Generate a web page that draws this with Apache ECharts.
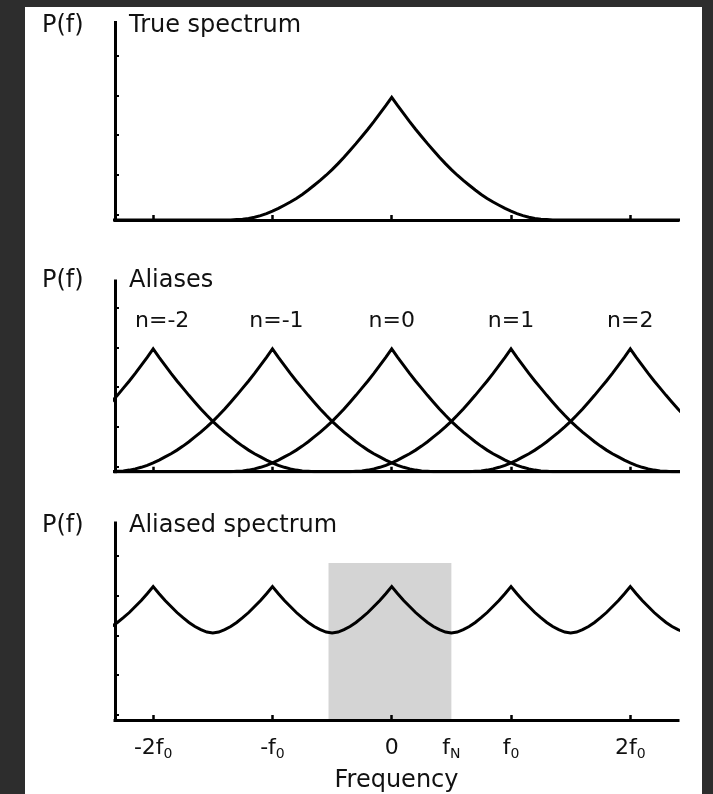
<!DOCTYPE html>
<html>
<head>
<meta charset="utf-8">
<script src="https://cdn.jsdelivr.net/npm/echarts@6/dist/echarts.min.js"></script>
<style>
html, body { margin: 0; padding: 0; background: #2d2d2d; }
#sheet { position: absolute; left: 25px; top: 7px; width: 677px; height: 787px; background: #ffffff; }
#chart { position: absolute; left: 0; top: 0; width: 713px; height: 794px; }
</style>
</head>
<body>
<div id="sheet"></div>
<div id="chart"></div>
<script>
// Frequency axis range, in units of the sampling frequency f0
const freqMin = -2.32;
const freqMax = 2.40;
const sampleStep = 0.05;

// One-sided shape of the true spectrum: P at |f| = 0, 0.05, 0.10, ...
const trueShape = [3.07, 2.86, 2.66, 2.46, 2.27, 2.09, 1.91, 1.74, 1.57, 1.41,
                   1.26, 1.12, 0.99, 0.87, 0.75, 0.64, 0.54, 0.45, 0.37, 0.29,
                   0.22, 0.16, 0.11, 0.07, 0.04, 0.02, 0.01, 0.00];

// One-sided shape of the aliased spectrum, from a peak (|f - n f0| = 0) to the trough (0.5)
const aliasedShape = [3.34, 3.16, 2.99, 2.84, 2.69, 2.56, 2.44, 2.34, 2.26, 2.20, 2.18];

// Alias orders and the height of their labels
const aliasOrders = [-2, -1, 0, 1, 2];
const aliasLabelLevel = 3.46;

// Frequency ticks and their labels (main text + subscript)
const freqTicks = [-2, -1, 0, 1, 2];
const freqLabelValues = [-2, -1, 0, 0.5, 1, 2];
const freqLabelMain = ['-2f', '-f', '0', 'f', 'f', '2f'];
const freqLabelSub = ['0', '0', '', 'N', '0', '0'];

// Power ticks on the vertical axes
const powerTicks = [0.13, 1.13, 2.12, 3.10, 4.10];

// Nyquist band [-fN, fN] shaded in the aliased spectrum
const nyquistBand = [-0.53, 0.50];
const nyquistTop = 3.93;

const panelTitles = ['True spectrum', 'Aliases', 'Aliased spectrum'];
const axisName = 'Frequency';
const powerName = 'P(f)';

// ---- layout ----
const FONT = 'DejaVu Sans';
const INK = '#111111';
const gridTops = [22.5, 281, 523];
const gridHeights = [197.5, 190.7, 197];
const powerMax = [4.94, 4.77, 4.93];
const titleTops = [13.8, 268.6, 513.8];

// sample indices covering a little more than the axis range
const kMin = Math.floor(-2.5 / sampleStep);
const kMax = Math.ceil(2.5 / sampleStep);
const perF0 = Math.round(1 / sampleStep);

function freqAt(k) { return Math.round(k * sampleStep * 100) / 100; }
function shapeAt(shape, idx) { return idx < shape.length ? shape[idx] : 0; }

const trueSpectrum = [];
for (let k = kMin; k <= kMax; k++) trueSpectrum.push([freqAt(k), shapeAt(trueShape, Math.abs(k))]);

// each alias is the true spectrum moved by n f0
const aliasSeriesData = aliasOrders.map(n => {
  const pts = [];
  for (let k = kMin; k <= kMax; k++) pts.push([freqAt(k), shapeAt(trueShape, Math.abs(k - n * perF0))]);
  return pts;
});

const aliasedSpectrum = [];
for (let k = kMin; k <= kMax; k++) {
  const m = ((k % perF0) + perF0) % perF0;
  aliasedSpectrum.push([freqAt(k), aliasedShape[Math.min(m, perF0 - m)]]);
}

const grids = gridTops.map((t, i) => ({ left: 115, right: 35, top: t, height: gridHeights[i] }));

const xAxes = gridTops.map((t, i) => ({
  type: 'value', gridIndex: i, min: freqMin, max: freqMax, z: 5,
  axisLine: { show: true, onZero: false, lineStyle: { color: '#000', width: 3, cap: 'square' } },
  axisTick: { show: true, inside: true, length: 5, customValues: freqTicks, lineStyle: { color: '#000', width: 2.5 } },
  splitLine: { show: false },
  axisLabel: i === 2 ? {
    show: true, margin: 16, customValues: freqLabelValues,
    formatter: function (v) {
      const j = freqLabelValues.indexOf(v);
      if (j < 0) return '';
      return '{m|' + freqLabelMain[j] + '}' + (freqLabelSub[j] ? '{s|' + freqLabelSub[j] + '}' : '');
    },
    rich: {
      m: { fontFamily: FONT, fontSize: 22, color: INK, lineHeight: 25 },
      s: { fontFamily: FONT, fontSize: 14, color: INK, lineHeight: 14, verticalAlign: 'bottom' }
    }
  } : { show: false },
  name: i === 2 ? axisName : '',
  nameLocation: 'middle', nameGap: 48.6,
  nameTextStyle: { fontFamily: FONT, fontSize: 24, color: INK, lineHeight: 24 }
}));

const yAxes = gridTops.map((t, i) => ({
  type: 'value', gridIndex: i, min: 0, max: powerMax[i], z: 5,
  axisLine: { show: true, onZero: false, lineStyle: { color: '#000', width: 3, cap: 'square' } },
  axisTick: { show: true, inside: true, length: 4, customValues: powerTicks, lineStyle: { color: '#000', width: 2 } },
  axisLabel: { show: false },
  splitLine: { show: false }
}));

const titleStyle = { fontFamily: FONT, fontSize: 24, fontWeight: 'normal', color: INK, lineHeight: 24 };
const titles = [];
panelTitles.forEach((txt, i) => {
  titles.push({ text: powerName, left: 42, top: titleTops[i], padding: 0, textStyle: titleStyle });
  titles.push({ text: txt, left: 129, top: titleTops[i], padding: 0, textStyle: titleStyle });
});

const curveStyle = { color: '#000', width: 3, join: 'miter' };
function curve(data, gi, extra) {
  return Object.assign({
    type: 'line', xAxisIndex: gi, yAxisIndex: gi, data: data,
    showSymbol: false, symbol: 'none', lineStyle: curveStyle, itemStyle: { color: '#000' },
    clip: true, silent: true, animation: false
  }, extra || {});
}

const series = [curve(trueSpectrum, 0)];
aliasSeriesData.forEach(d => series.push(curve(d, 1)));
series.push({
  type: 'scatter', xAxisIndex: 1, yAxisIndex: 1, symbolSize: 0, silent: true, animation: false,
  itemStyle: { color: '#000', opacity: 1 },
  data: aliasOrders.map(n => ({
    value: [n, aliasLabelLevel],
    label: { offset: [n === -2 ? 9 : (n === -1 ? 4 : 0), 0] }
  })),
  label: {
    show: true, position: 'top', distance: 0, fontFamily: FONT, fontSize: 22, lineHeight: 24,
    color: INK, opacity: 1, textBorderWidth: 0,
    formatter: p => 'n=' + p.value[0]
  }
});
series.push(curve(aliasedSpectrum, 2, {
  markArea: {
    silent: true,
    itemStyle: { color: '#d4d4d4' },
    data: [[{ xAxis: nyquistBand[0], yAxis: 0 }, { xAxis: nyquistBand[1], yAxis: nyquistTop }]]
  }
}));

const chart = echarts.init(document.getElementById('chart'), null, { renderer: 'canvas' });
chart.setOption({
  backgroundColor: 'transparent',
  animation: false,
  title: titles,
  grid: grids,
  xAxis: xAxes,
  yAxis: yAxes,
  series: series
});
</script>
</body>
</html>
